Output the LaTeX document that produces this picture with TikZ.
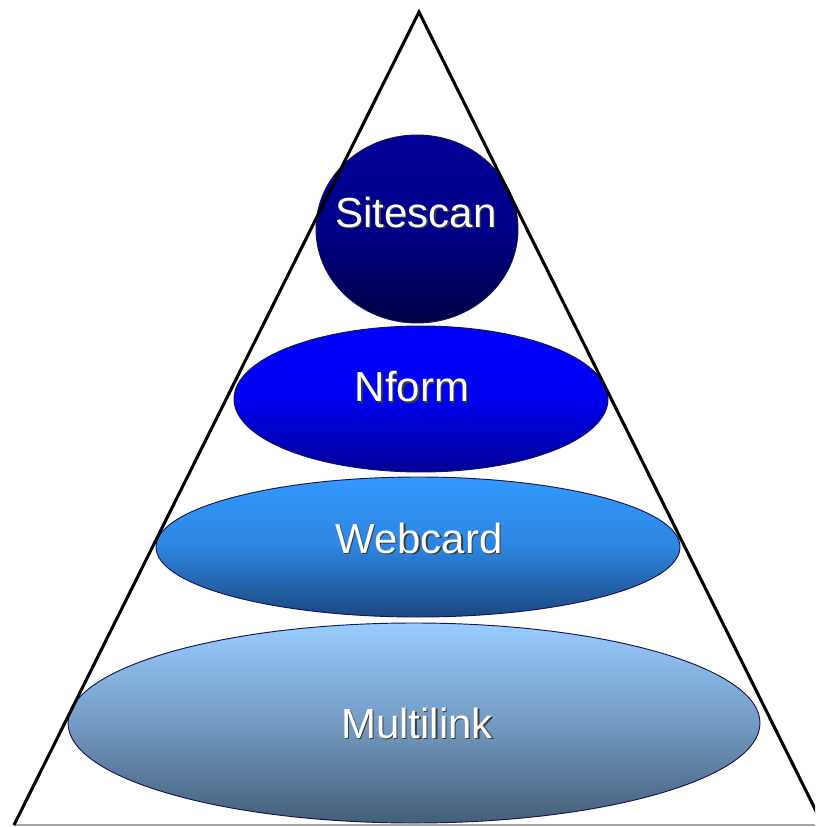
\documentclass[tikz,border=0pt]{standalone}
\usepackage{fontspec}
\setmainfont{Liberation Sans}
\usetikzlibrary{shapes.geometric}
\definecolor{sTop}{RGB}{0,0,150}
\definecolor{sBot}{RGB}{0,0,68}
\definecolor{nTop}{RGB}{0,0,255}
\definecolor{nBot}{RGB}{0,0,150}
\definecolor{wTop}{RGB}{51,153,255}
\definecolor{wBot}{RGB}{26,72,128}
\definecolor{mTop}{RGB}{153,204,255}
\definecolor{mBot}{RGB}{69,94,120}
\definecolor{rim}{RGB}{20,20,90}
\definecolor{shadowc}{RGB}{60,60,60}
\begin{document}
\begin{tikzpicture}[x=0.75pt,y=-0.75pt,
  layer/.style={ellipse, draw=rim, line width=0.7pt, inner sep=0pt, outer sep=0pt},
  lbl/.style={text=white, inner sep=0pt, font=\fontsize{31.5}{36}\selectfont},
  lblshadow/.style={text=shadowc, inner sep=0pt, font=\fontsize{31.5}{36}\selectfont},
  edge/.style={line width=2.3pt, black, line join=miter}]
\useasboundingbox (0,0) rectangle (815,827);
\clip (0,0) rectangle (815,827);
\fill[white] (0,0) rectangle (815,827);

\node[layer, minimum width=519pt, minimum height=150pt,
  top color=mTop, bottom color=mBot, middle color=mTop!55!mBot] (multilink) at (414,723) {};
\node[layer, minimum width=393pt, minimum height=105pt,
  top color=wTop, bottom color=wBot, middle color=wTop!75!wBot] (webcard) at (418,547) {};
\node[layer, minimum width=280.5pt, minimum height=109.5pt,
  top color=nTop, bottom color=nBot, middle color=nTop!85!nBot] (nform) at (421,399) {};
\node[layer, minimum width=151.5pt, minimum height=141pt,
  top color=sTop, bottom color=sBot, middle color=sTop!85!sBot] (sitescan) at (417,229) {};

\node[lblshadow] (tSitescanS) at (417.5,213.5) {Sitescan};
\node[lbl] (tSitescan) at (416,212) {Sitescan};
\node[lblshadow] (tNformS) at (413.5,388.5) {Nform};
\node[lbl] (tNform) at (412,387) {Nform};
\node[lblshadow] (tWebcardS) at (420.5,539.5) {Webcard};
\node[lbl] (tWebcard) at (419,538) {Webcard};
\node[lblshadow] (tMultilinkS) at (418.5,724.5) {Multilink};
\node[lbl] (tMultilink) at (417,723) {Multilink};

\coordinate (apex) at (419,12);
\coordinate (bl) at (14,825);
\coordinate (br) at (823,825);
\coordinate (be) at (815,825);
\draw[gray!70, line width=1.5pt] (bl) -- (be);
\draw[edge] (bl) -- (apex) -- (br);
\end{tikzpicture}
\end{document}
